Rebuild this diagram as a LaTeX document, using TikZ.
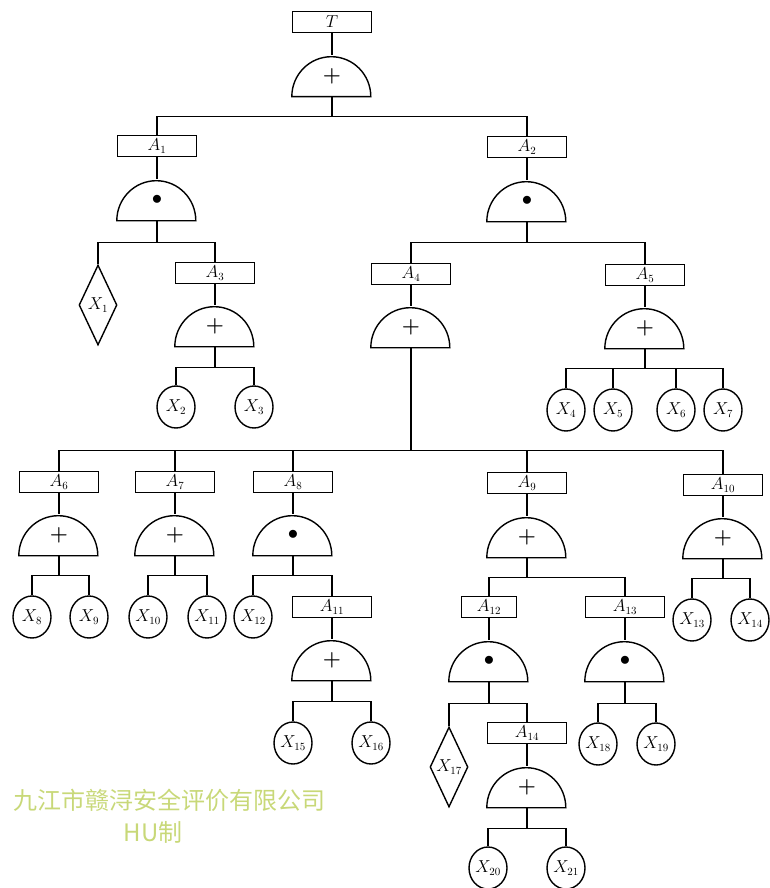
\documentclass[tikz,border=0pt]{standalone}
\usepackage{fontspec}
\newfontfamily\cjk{Noto Sans CJK SC}
\usetikzlibrary{shapes.geometric}
\definecolor{markgreen}{RGB}{200,216,120}
\newcommand{\orSym}{{\fontsize{22}{22}\selectfont\boldmath$+$}}
\newcommand{\andSym}{{\fontsize{20}{20}\selectfont$\bullet$}}
\newcommand{\drawGate}[4]{
    \node[gatebox] (#1) at (#2,#3) {#4};
    \draw (#1.south west) arc[start angle=180,end angle=0,x radius=39.5,y radius=40] -- cycle;
}
\newcommand{\drawBranch}[3]{
    \draw (#1.south) -- ++(0,-#2) coordinate (#1bar);
    \foreach \ch in {#3} \draw (#1bar) -| (\ch.north);
}
\tikzset{
    evbox/.style={draw, rectangle, minimum width=79pt, minimum height=21pt, inner sep=0pt,
        font=\fontsize{16}{16}\selectfont},
    gatebox/.style={rectangle, minimum width=79pt, minimum height=40pt, inner sep=0pt},
    basicev/.style={draw, ellipse, minimum width=38pt, minimum height=42pt, inner sep=0pt,
        font=\fontsize{16}{16}\selectfont},
    undevev/.style={draw, diamond, aspect=0.5, minimum width=38pt, minimum height=80pt, inner sep=0pt,
        font=\fontsize{16}{16}\selectfont},
    wmark/.style={text=markgreen, inner sep=0pt, font=\cjk\fontsize{24}{24}\selectfont}
}

\begin{document}
\begin{tikzpicture}[x=1pt, y=1pt, line width=1.4pt]
\useasboundingbox (0,0) rectangle (769,-888);

% Top event
\node[evbox] (T) at (332,-22) {$T$};
\drawGate{gT}{332}{-76}{\orSym}

% Second level
\node[evbox] (A1) at (157,-146) {$A_{1}$};
\node[evbox] (A2) at (527,-147) {$A_{2}$};
\drawGate{g1}{157}{-200}{\andSym}
\drawGate{g2}{527}{-201}{\andSym}

% Under A1 and A2
\node[undevev] (X1) at (98,-305) {$X_{1}$};
\node[evbox] (A3) at (215,-273) {$A_{3}$};
\node[evbox] (A4) at (411,-274) {$A_{4}$};
\node[evbox] (A5) at (645,-275) {$A_{5}$};
\drawGate{g3}{215}{-326}{\orSym}
\drawGate{g4}{411}{-327}{\orSym}
\drawGate{g5}{645}{-328}{\orSym}
\node[basicev] (X2) at (176,-407) {$X_{2}$};
\node[basicev] (X3) at (254,-407) {$X_{3}$};
\node[basicev] (X4) at (566,-410) {$X_{4}$};
\node[basicev] (X5) at (613,-410) {$X_{5}$};
\node[basicev] (X6) at (676,-410) {$X_{6}$};
\node[basicev] (X7) at (723,-410) {$X_{7}$};

% Under A4
\node[evbox] (A6) at (59,-482) {$A_{6}$};
\node[evbox] (A7) at (175,-482) {$A_{7}$};
\node[evbox] (A8) at (293,-482) {$A_{8}$};
\node[evbox] (A9) at (527,-483) {$A_{9}$};
\node[evbox] (A10) at (723,-485) {$A_{10}$};
\drawGate{g6}{59}{-535}{\orSym}
\drawGate{g7}{175}{-535}{\orSym}
\drawGate{g8}{293}{-535}{\andSym}
\drawGate{g9}{527}{-537}{\orSym}
\drawGate{g10}{723}{-538}{\orSym}
\node[basicev] (X8) at (32,-617) {$X_{8}$};
\node[basicev] (X9) at (89,-617) {$X_{9}$};
\node[basicev] (X10) at (148,-617) {$X_{10}$};
\node[basicev] (X11) at (207,-617) {$X_{11}$};
\node[basicev] (X12) at (253,-617) {$X_{12}$};
\node[basicev] (X13) at (692,-620) {$X_{13}$};
\node[basicev] (X14) at (750,-620) {$X_{14}$};

% Lowest levels
\node[evbox] (A11) at (332,-607) {$A_{11}$};
\node[evbox, minimum width=55pt] (A12) at (489,-607) {$A_{12}$};
\node[evbox] (A13) at (625,-607) {$A_{13}$};
\drawGate{g11}{332}{-660}{\orSym}
\drawGate{g12}{489}{-661}{\andSym}
\drawGate{g13}{625}{-661}{\andSym}
\node[basicev] (X15) at (293,-743) {$X_{15}$};
\node[basicev] (X16) at (371,-743) {$X_{16}$};
\node[undevev] (X17) at (449,-767) {$X_{17}$};
\node[evbox] (A14) at (527,-733) {$A_{14}$};
\node[basicev] (X18) at (598,-744) {$X_{18}$};
\node[basicev] (X19) at (656,-744) {$X_{19}$};
\drawGate{g14}{527}{-787}{\orSym}
\node[basicev] (X20) at (488,-868) {$X_{20}$};
\node[basicev] (X21) at (566,-868) {$X_{21}$};

% Event to gate
\foreach \ev/\gt in {T/gT, A1/g1, A2/g2, A3/g3, A4/g4, A5/g5, A6/g6, A7/g7, A8/g8,
    A9/g9, A10/g10, A11/g11, A12/g12, A13/g13, A14/g14}
    \draw (\ev.south) -- (\gt.north);

% Gate to inputs
\drawBranch{gT}{20}{A1, A2}
\drawBranch{g1}{22}{X1, A3}
\drawBranch{g2}{21}{A4, A5}
\drawBranch{g3}{21}{X2, X3}
\drawBranch{g4}{103}{A6, A7, A8, A9, A10}
\drawBranch{g5}{20}{X4, X5, X6, X7}
\drawBranch{g6}{20}{X8, X9}
\drawBranch{g7}{20}{X10, X11}
\drawBranch{g8}{20}{X12, A11}
\drawBranch{g9}{20}{A12, A13}
\drawBranch{g10}{20}{X13, X14}
\drawBranch{g11}{21}{X15, X16}
\drawBranch{g12}{22}{X17, A14}
\drawBranch{g13}{22}{X18, X19}
\drawBranch{g14}{21}{X20, X21}

% Watermark
\node[wmark] (wm1) at (169,-800) {九江市赣浔安全评价有限公司};
\node[wmark] (wm2) at (153,-832) {HU制};

\end{tikzpicture}
\end{document}
